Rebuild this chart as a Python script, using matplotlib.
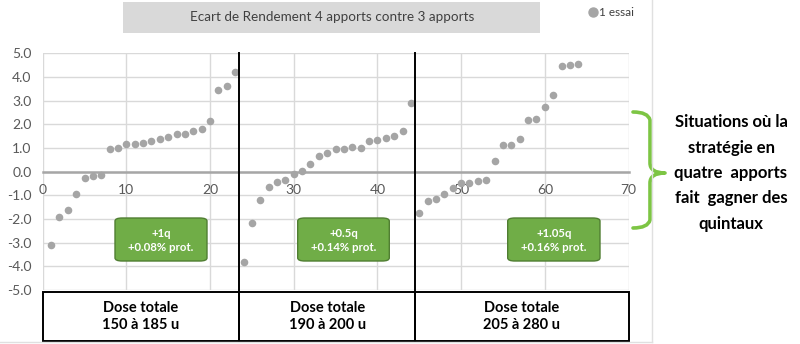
import matplotlib
matplotlib.use("Agg")
import matplotlib.pyplot as plt
from matplotlib.patches import FancyBboxPatch, Rectangle, PathPatch
from matplotlib.path import Path
from matplotlib.lines import Line2D

plt.rcParams["font.family"] = ["Lato", "DejaVu Sans"]

# Yield difference (q) per trial, trials sorted inside each total-dose group
ecart_150_185 = [-3.1, -1.9, -1.6, -0.95, -0.25, -0.2, -0.15, 0.95, 1.0, 1.15,
                 1.15, 1.22, 1.3, 1.38, 1.45, 1.6, 1.6, 1.72, 1.8, 2.15,
                 3.47, 3.6, 4.23]
ecart_190_200 = [-3.8, -2.15, -1.2, -0.65, -0.43, -0.36, -0.1, 0.03, 0.34, 0.65,
                 0.77, 0.95, 0.97, 1.03, 1.02, 1.3, 1.35, 1.42, 1.52, 1.7, 2.88]
ecart_205_280 = [-1.75, -1.25, -1.15, -0.95, -0.68, -0.5, -0.5, -0.4, -0.36, 0.45,
                 1.12, 1.14, 1.38, 2.2, 2.22, 2.73, 3.22, 4.46, 4.52, 4.56]

groupes = ["Dose totale\n150 à 185 u", "Dose totale\n190 à 200 u", "Dose totale\n205 à 280 u"]
gains = ["+1q\n+0.08% prot.", "+0.5q\n+0.14% prot.", "+1.05q\n+0.16% prot."]
x_ticks = [0, 10, 20, 30, 40, 50, 60, 70]
y_ticks = [-5, -4, -3, -2, -1, 0, 1, 2, 3, 4, 5]

W, H = 800, 344
fig = plt.figure(figsize=(W / 100, H / 100), dpi=100)
fig.patch.set_facecolor("white")


def fx(px):
    return px / W


def fy(py):
    return 1 - py / H


AX_L, AX_R, AX_T, AX_B = 42.7, 628.5, 53.3, 290.0
ax = fig.add_axes([fx(AX_L), fy(AX_B), (AX_R - AX_L) / W, (AX_B - AX_T) / H])
ax.set_xlim(0, 70)
ax.set_ylim(-5, 5)

series = [ecart_150_185, ecart_190_200, ecart_205_280]
xs, ys, bounds = [], [], [0.0]
n = 0
for s in series:
    xs += list(range(n + 1, n + len(s) + 1))
    ys += s
    n += len(s)
    bounds.append(n + 0.5)
bounds[-1] = 70.0

ax.scatter(xs, ys, s=30, color="#A5A5A5", zorder=3, linewidths=0)

ax.set_xticks(x_ticks)
ax.set_xticklabels([str(v) for v in x_ticks])
ax.set_yticks(y_ticks)
ax.set_yticklabels([f"{v:.1f}" for v in y_ticks])
ax.grid(True, color="#D9D9D9", linewidth=1.0, zorder=0)
ax.set_axisbelow(True)
for side in ("top", "right", "left"):
    ax.spines[side].set_visible(False)
ax.spines["bottom"].set_position(("data", 0))
ax.spines["bottom"].set_color("#A6A6A6")
ax.spines["bottom"].set_linewidth(1.8)
ax.spines["bottom"].set_zorder(2)
ax.tick_params(axis="x", length=0, pad=9, labelsize=10, labelcolor="#595959")
ax.tick_params(axis="y", length=0, pad=8, labelsize=10, labelcolor="#595959")

# group separators
for b in bounds[1:-1]:
    ax.plot([b, b], [5, -5.3], color="black", lw=1.4, clip_on=False, zorder=4)

# dose table under the plot
tab = fig.add_axes([fx(AX_L), fy(341), (AX_R - AX_L) / W, (341 - 292) / H])
tab.set_xlim(0, 70)
tab.set_ylim(0, 1)
tab.axis("off")
for i, lab in enumerate(groupes):
    x0, x1 = bounds[i], bounds[i + 1]
    tab.add_patch(Rectangle((x0, 0), x1 - x0, 1, fill=False, edgecolor="black",
                            lw=1.4, clip_on=False))
    tab.text((x0 + x1) / 2, 0.5, lab, ha="center", va="center", fontsize=10.5,
             fontweight="bold", color="black", linespacing=1.2)

# green summary boxes
box_x = [(115, 207), (297.7, 389.3), (507.7, 600)]
for (b0, b1), txt in zip(box_x, gains):
    fig.patches.append(FancyBboxPatch(
        (fx(b0), fy(261)), (b1 - b0) / W, (261 - 218) / H,
        boxstyle="round,pad=0,rounding_size=0.009", transform=fig.transFigure,
        facecolor="#70AD47", edgecolor="#507E32", lw=1.0, zorder=5))
    fig.text(fx((b0 + b1) / 2), fy(240.5), txt, ha="center", va="center",
             fontsize=8.2, fontweight="bold", color="white", linespacing=1.4,
             zorder=6)

# title box
fig.patches.append(Rectangle((fx(123.3), fy(33)), (540 - 123.3) / W, 31 / H,
                             transform=fig.transFigure, facecolor="#D9D9D9",
                             edgecolor="none", zorder=1))
fig.text(fx(331.7), fy(17), "Ecart de Rendement 4 apports contre 3 apports",
         ha="center", va="center", fontsize=9.7, color="#404040", zorder=2)

# legend
fig.lines.append(Line2D([fx(593.3)], [fy(12)], marker="o", markersize=6.5,
                        color="#A5A5A5", transform=fig.transFigure))
fig.text(fx(599), fy(12), "1 essai", ha="left", va="center", fontsize=8.5,
         color="#404040")

# chart area border
fig.lines.append(Line2D([fx(652), fx(652)], [fy(0), fy(342)], color="#E0E0E0",
                        lw=1, transform=fig.transFigure))
fig.lines.append(Line2D([fx(0), fx(652)], [fy(342), fy(342)], color="#E0E0E0",
                        lw=1, transform=fig.transFigure))

# curly brace
pts = [(633, 112), (648, 112), (650, 120), (650, 163), (650, 173), (665, 173),
       (650, 173), (650, 183), (650, 220), (648, 228), (633, 228)]
codes = [Path.MOVETO, Path.CURVE3, Path.CURVE3, Path.LINETO, Path.CURVE3, Path.CURVE3,
         Path.CURVE3, Path.CURVE3, Path.LINETO, Path.CURVE3, Path.CURVE3]
brace = Path([(fx(px), fy(py)) for px, py in pts], codes)
fig.patches.append(PathPatch(brace, transform=fig.transFigure, fill=False,
                             edgecolor="#7DC544", lw=2.6, capstyle="round",
                             joinstyle="round"))

fig.text(fx(731), fy(173), "Situations où la\nstratégie en\nquatre  apports\nfait  gagner des\nquintaux",
         ha="center", va="center", fontsize=12, fontweight="bold", color="black",
         linespacing=1.72)

fig.savefig("out.png", dpi=100)
